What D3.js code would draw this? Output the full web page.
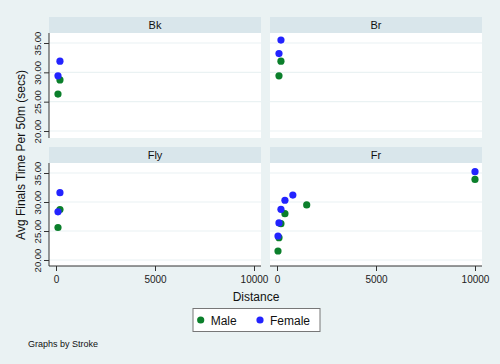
<!DOCTYPE html>
<html><head><meta charset="utf-8">
<script src="https://cdn.jsdelivr.net/npm/d3@7"></script>
<style>body{margin:0;background:#eaf2f3;}svg{display:block;font-family:"Liberation Sans",Arial,Helvetica,sans-serif;}</style>
</head><body>
<script>
const strokes = ["Bk", "Br", "Fly", "Fr"];
const genders = ["Male", "Female"];
const colors = ["#0b7f2b", "#2323ff"];
const yTicks = [20, 25, 30, 35];
const xTicks = [0, 5000, 10000];
// [stroke, gender, distance, time]
const bkMale = [[100, 26.3], [200, 28.7]];
const bkFemale = [[100, 29.4], [200, 31.9]];
const brMale = [[100, 29.4], [200, 31.9]];
const brFemale = [[100, 33.2], [200, 35.5]];
const flyMale = [[100, 25.6], [200, 28.7]];
const flyFemale = [[100, 28.3], [200, 31.6]];
const frMale = [[50, 21.55], [100, 23.85], [200, 26.26], [400, 27.98], [1500, 29.5], [10000, 33.9]];
const frFemale = [[50, 24.14], [100, 26.4], [200, 28.74], [400, 30.3], [800, 31.2], [10000, 35.22]];
const series = {Bk: [bkMale, bkFemale], Br: [brMale, brFemale], Fly: [flyMale, flyFemale], Fr: [frMale, frFemale]};

const W = 500, H = 364;
const svg = d3.select("body").append("svg").attr("width", W).attr("height", H);
svg.append("rect").attr("width", W).attr("height", H).attr("fill", "#eaf2f3");

const colX = [49, 270], pw = 212;
const rows = [{h: 17, top: 33, bottom: 138}, {h: 147, top: 163, bottom: 266}];
const x = d3.scaleLinear().domain([0, 10000]).range([7, 205]);

strokes.forEach((s, i) => {
  const c = i % 2, r = Math.floor(i / 2);
  const row = rows[r];
  const g = svg.append("g").attr("transform", `translate(${colX[c]},0)`);
  const y = d3.scaleLinear().domain([20, 35]).range([row.top + (r === 0 ? 98 : 97), row.top + 10]);
  // header
  g.append("rect").attr("x", 0).attr("y", row.h).attr("width", pw).attr("height", row.top - row.h).attr("fill", "#d9e6eb");
  g.append("text").attr("x", pw / 2).attr("y", row.h + 12).attr("text-anchor", "middle").attr("font-size", 11).attr("fill", "#111").text(s);
  // plot area
  g.append("rect").attr("x", 0).attr("y", row.top).attr("width", pw).attr("height", row.bottom - row.top).attr("fill", "#fff");
  g.selectAll(".grid").data(yTicks).join("line").attr("x1", 0).attr("x2", pw)
    .attr("y1", d => y(d)).attr("y2", d => y(d)).attr("stroke", "#eaf2f3").attr("stroke-width", 1.2);
  if (c === 0) {
    const ay = g.append("g").call(d3.axisLeft(y).tickValues(yTicks).tickSize(5).tickFormat(d3.format(".2f")));
    ay.select(".domain").attr("d", `M0,${row.top}V${row.bottom}`).attr("stroke", "#333");
    ay.selectAll(".tick line").attr("stroke", "#333");
    ay.selectAll(".tick text").attr("transform", "rotate(-90)").attr("x", 0).attr("y", -8).attr("dy", 0)
      .attr("text-anchor", "middle").attr("font-size", 9.5).attr("fill", "#222").attr("font-family", null);
  }
  if (r === 1) {
    const ax = g.append("g").attr("transform", `translate(0,${row.bottom})`)
      .call(d3.axisBottom(x).tickValues(xTicks).tickSize(5).tickFormat(d3.format("d")));
    ax.select(".domain").attr("d", `M0,0H${pw}`).attr("stroke", "#333");
    ax.selectAll(".tick line").attr("stroke", "#333");
    ax.selectAll(".tick text").attr("y", 8).attr("dy", "0.9em").attr("font-size", 10).attr("fill", "#222").attr("font-family", null);
  }
  series[s].forEach((pts, k) => {
    g.selectAll(null).data(pts).join("circle").attr("cx", d => x(d[0])).attr("cy", d => y(d[1]))
      .attr("r", 3.6).attr("fill", colors[k]);
  });
});

svg.append("text").attr("transform", "translate(25,155) rotate(-90)").attr("text-anchor", "middle")
  .attr("font-size", 12).attr("fill", "#111").text("Avg Finals Time Per 50m (secs)");
svg.append("text").attr("x", 256).attr("y", 301).attr("text-anchor", "middle").attr("font-size", 12).attr("fill", "#111").text("Distance");

const lg = svg.append("g");
lg.append("rect").attr("x", 193).attr("y", 308.5).attr("width", 127).attr("height", 23).attr("fill", "#fff").attr("stroke", "#777");
const lx = [200.7, 260];
genders.forEach((gname, k) => {
  lg.append("circle").attr("cx", lx[k]).attr("cy", 320).attr("r", 3.6).attr("fill", colors[k]);
  lg.append("text").attr("x", lx[k] + 10).attr("y", 324.5).attr("font-size", 12).attr("fill", "#111").text(gname);
});
svg.append("text").attr("x", 28).attr("y", 347).attr("font-size", 9).attr("fill", "#111").text("Graphs by Stroke");
</script>
</body></html>
